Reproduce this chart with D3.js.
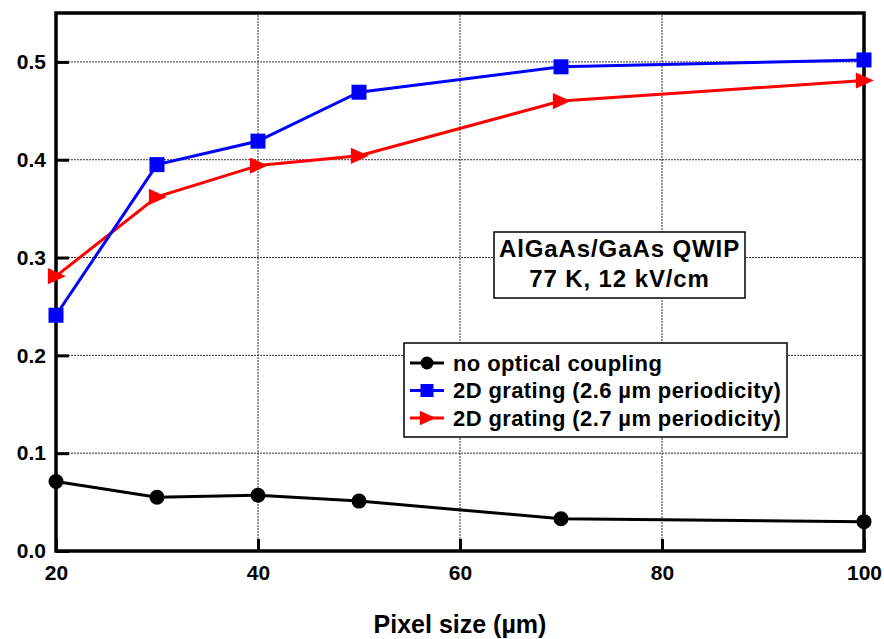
<!DOCTYPE html>
<html>
<head>
<meta charset="utf-8">
<script src="https://cdn.jsdelivr.net/npm/d3@7"></script>
<style>
  body { margin: 0; background: #fff; }
  text { font-family: "Liberation Sans", Arial, sans-serif; font-weight: bold; }
</style>
</head>
<body>
<div id="chart"></div>
<script>
// pixel sizes (um)
var pixelSize = [20, 30, 40, 50, 70, 100];

// series values
var noCoupling = [0.071, 0.055, 0.057, 0.051, 0.033, 0.030];
var grating26 = [0.241, 0.395, 0.419, 0.469, 0.495, 0.502];
var grating27 = [0.281, 0.362, 0.394, 0.404, 0.460, 0.481];

var xTicks = [20, 40, 60, 80, 100];
var yTicks = [0.0, 0.1, 0.2, 0.3, 0.4, 0.5];

var seriesNames = ['no optical coupling',
                   '2D grating (2.6 \u00b5m periodicity)',
                   '2D grating (2.7 \u00b5m periodicity)'];

var W = 884, H = 639;
var margin = {left: 56, right: 20, top: 13, bottom: 88};

var svg = d3.select('#chart').append('svg')
    .attr('width', W)
    .attr('height', H);

var x = d3.scaleLinear().domain([20, 100]).range([margin.left, W - margin.right]);
var y = d3.scaleLinear().domain([0, 0.55]).range([H - margin.bottom, margin.top]);

// dotted grid
var grid = svg.append('g');
grid.selectAll('.gx')
    .data(xTicks.slice(1, -1))
    .enter().append('line')
    .attr('x1', x).attr('x2', x)
    .attr('y1', y(0)).attr('y2', y(0.55))
    .attr('stroke', '#333').attr('stroke-width', 1)
    .attr('stroke-dasharray', '2,1');
grid.selectAll('.gy')
    .data(yTicks.slice(1))
    .enter().append('line')
    .attr('y1', y).attr('y2', y)
    .attr('x1', x(20)).attr('x2', x(100))
    .attr('stroke', '#333').attr('stroke-width', 1)
    .attr('stroke-dasharray', '2,1');

// axes (inner ticks)
var xAxis = d3.axisBottom(x).tickValues(xTicks).tickSize(-12).tickPadding(14)
    .tickFormat(d3.format('d'));
var yAxis = d3.axisLeft(y).tickValues(yTicks).tickSize(-13).tickPadding(10)
    .tickFormat(d3.format('.1f'));

var gx = svg.append('g')
    .attr('transform', 'translate(0,' + y(0) + ')')
    .call(xAxis);
var gy = svg.append('g')
    .attr('transform', 'translate(' + x(20) + ',0)')
    .call(yAxis);

[gx, gy].forEach(function(g) {
    g.select('.domain').remove();
    g.selectAll('.tick line').attr('stroke', '#000').attr('stroke-width', 3);
    g.selectAll('.tick text').attr('fill', '#000').style('font-size', '21px');
});

// frame
svg.append('rect')
    .attr('x', x(20)).attr('y', y(0.55))
    .attr('width', x(100) - x(20))
    .attr('height', y(0) - y(0.55))
    .attr('fill', 'none')
    .attr('stroke', '#000')
    .attr('stroke-width', 3.5);

// axis title
svg.append('text')
    .attr('x', 460).attr('y', 633)
    .attr('text-anchor', 'middle')
    .style('font-size', '25px')
    .text('Pixel size (\u00b5m)');

// markers
function circle(g, size) {
    g.append('circle').attr('r', size / 2).attr('fill', '#000');
}
function square(g, size) {
    g.append('rect').attr('x', -size / 2).attr('y', -size / 2)
        .attr('width', size).attr('height', size).attr('fill', '#0000ff');
}
function triangle(g, size) {
    g.append('path')
        .attr('d', 'M' + (size * 0.55) + ',0 L' + (-size * 0.45) + ',' + (-size * 0.45) +
            ' L' + (-size * 0.45) + ',' + (size * 0.45) + 'Z')
        .attr('fill', '#ff0000');
}

var series = [
    {name: seriesNames[0], values: noCoupling, color: '#000', marker: circle, size: 15},
    {name: seriesNames[1], values: grating26, color: '#0000ff', marker: square, size: 15},
    {name: seriesNames[2], values: grating27, color: '#ff0000', marker: triangle, size: 18}
];

var line = d3.line()
    .x(function(d, i) { return x(pixelSize[i]); })
    .y(function(d) { return y(d); });

// draw black first, then red, then blue like the figure
[series[0], series[2], series[1]].forEach(function(s) {
    svg.append('path')
        .datum(s.values)
        .attr('d', line)
        .attr('fill', 'none')
        .attr('stroke', s.color)
        .attr('stroke-width', 3);
    s.values.forEach(function(v, i) {
        var g = svg.append('g')
            .attr('transform', 'translate(' + x(pixelSize[i]) + ',' + y(v) + ')');
        s.marker(g, s.size);
    });
});

// annotation box
var ann = svg.append('g');
ann.append('rect')
    .attr('x', 494).attr('y', 232)
    .attr('width', 251).attr('height', 66)
    .attr('fill', '#fff').attr('stroke', '#000').attr('stroke-width', 1.5);
ann.append('text')
    .attr('x', 619.5).attr('y', 257)
    .attr('text-anchor', 'middle')
    .style('font-size', '24px')
    .style('letter-spacing', '0.9px')
    .text('AlGaAs/GaAs QWIP');
ann.append('text')
    .attr('x', 619.5).attr('y', 287)
    .attr('text-anchor', 'middle')
    .style('font-size', '24px')
    .style('letter-spacing', '0.9px')
    .text('77 K, 12 kV/cm');

// legend
var leg = svg.append('g');
leg.append('rect')
    .attr('x', 404).attr('y', 343)
    .attr('width', 383).attr('height', 94)
    .attr('fill', '#fff').attr('stroke', '#000').attr('stroke-width', 1.5);
series.forEach(function(s, i) {
    var ly = 363 + i * 27.5;
    leg.append('line')
        .attr('x1', 410).attr('x2', 444)
        .attr('y1', ly).attr('y2', ly)
        .attr('stroke', s.color).attr('stroke-width', 3);
    var g = leg.append('g').attr('transform', 'translate(427,' + ly + ')');
    s.marker(g, s.size - 2);
    leg.append('text')
        .attr('x', 453).attr('y', ly + 7.5)
        .style('font-size', '22px')
        .style('letter-spacing', '0.4px')
        .text(s.name);
});
</script>
</body>
</html>
